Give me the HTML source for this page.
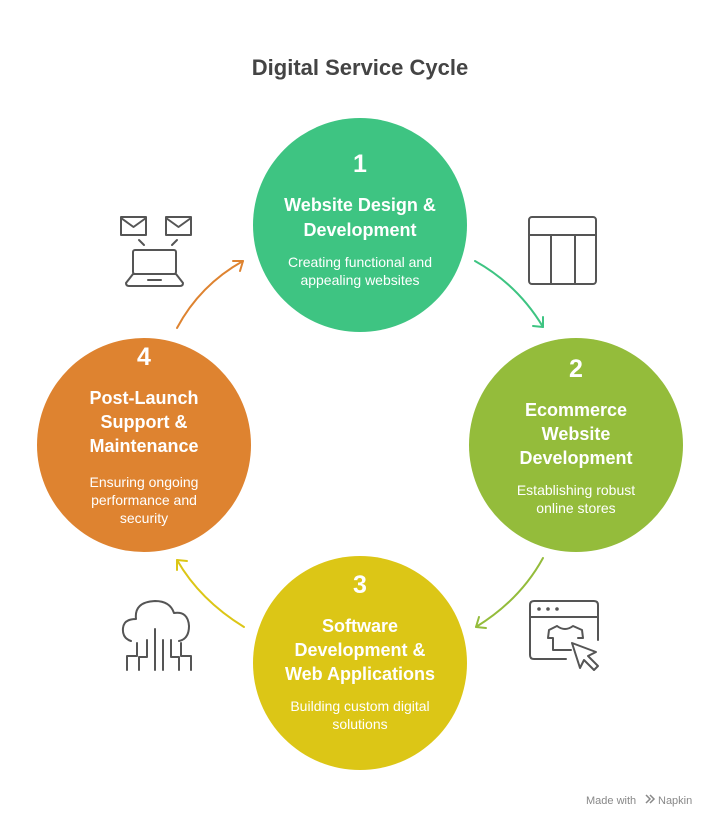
<!DOCTYPE html>
<html><head><meta charset="utf-8"><style>
html,body{margin:0;padding:0;background:#fff;}
svg{display:block;font-family:"Liberation Sans",Arial,sans-serif;}
.t{font-weight:bold;font-size:18px;fill:#fff;text-anchor:middle;}
.n{font-weight:bold;font-size:25px;fill:#fff;text-anchor:middle;}
.d{font-size:14px;fill:#fff;text-anchor:middle;}
.ic{fill:none;stroke:#555;stroke-width:2;stroke-linecap:round;stroke-linejoin:round;}
</style></head><body>
<svg width="720" height="828" viewBox="0 0 720 828">
<text x="360" y="75" text-anchor="middle" font-size="22" font-weight="bold" fill="#444">Digital Service Cycle</text>

<circle cx="360" cy="225" r="107" fill="#3ec482"/>
<circle cx="576" cy="445" r="107" fill="#94bc3b"/>
<circle cx="360" cy="663" r="107" fill="#dcc616"/>
<circle cx="144" cy="445" r="107" fill="#de8330"/>

<text class="n" x="360" y="172">1</text>
<text class="t" x="360" y="211">Website Design &amp;</text>
<text class="t" x="360" y="236">Development</text>
<text class="d" x="360" y="267">Creating functional and</text>
<text class="d" x="360" y="285">appealing websites</text>

<text class="n" x="576" y="377">2</text>
<text class="t" x="576" y="416">Ecommerce</text>
<text class="t" x="576" y="440">Website</text>
<text class="t" x="576" y="464">Development</text>
<text class="d" x="576" y="495">Establishing robust</text>
<text class="d" x="576" y="513">online stores</text>

<text class="n" x="360" y="593">3</text>
<text class="t" x="360" y="632">Software</text>
<text class="t" x="360" y="656">Development &amp;</text>
<text class="t" x="360" y="680">Web Applications</text>
<text class="d" x="360" y="711">Building custom digital</text>
<text class="d" x="360" y="729">solutions</text>

<text class="n" x="144" y="365">4</text>
<text class="t" x="144" y="404">Post-Launch</text>
<text class="t" x="144" y="428">Support &amp;</text>
<text class="t" x="144" y="452">Maintenance</text>
<text class="d" x="144" y="487">Ensuring ongoing</text>
<text class="d" x="144" y="505">performance and</text>
<text class="d" x="144" y="523">security</text>

<!-- arrows -->
<g fill="none" stroke-width="2" stroke-linecap="round" stroke-linejoin="round">
<path d="M177 328 Q200 285 243 261" stroke="#de8330"/>
<path d="M233 261 L243 261 L240 271" stroke="#de8330"/>
<path d="M475 261 Q518 285 543 327" stroke="#3ec482"/>
<path d="M543 317 L543 327 L533 326" stroke="#3ec482"/>
<path d="M543 558 Q520 600 476 627" stroke="#94bc3b"/>
<path d="M486 628 L476 627 L479 617" stroke="#94bc3b"/>
<path d="M244 627 Q200 600 177 560" stroke="#dcc616"/>
<path d="M177 570 L177 560 L187 561" stroke="#dcc616"/>
</g>

<!-- laptop icon -->
<g class="ic">
<rect x="121" y="217" width="25" height="18"/>
<path d="M121 218 L133.5 227 L146 218"/>
<rect x="166" y="217" width="25" height="18"/>
<path d="M166 218 L178.5 227 L191 218"/>
<path d="M139 240 L144 245 M177 240 L172 245"/>
<rect x="133" y="250" width="43" height="24" rx="2"/>
<path d="M133 274 L126 283 Q126 286 129 286 L180 286 Q183 286 183 283 L176 274 Z"/>
<path d="M148 280 L161 280"/>
</g>
<!-- table icon -->
<g class="ic">
<rect x="529" y="217" width="67" height="67" rx="3"/>
<path d="M529 235 L596 235 M551 235 L551 284 M575 235 L575 284"/>
</g>
<!-- cloud icon -->
<g class="ic">
<path d="M131 641 Q122 638 123 628 Q124 619 136 619 Q134 602 155 601 Q170 601 174 613 Q188 611 189 626 Q189 639 179 641"/>
<path d="M155 629 L155 670 M163 640 L163 670"/>
<path d="M147 640 L147 657 L139 657 L139 670"/>
<path d="M137 643 L137 656 L127 656 L127 670"/>
<path d="M171 640 L171 657 L179 657 L179 670"/>
<path d="M181 643 L181 656 L191 656 L191 670"/>
</g>
<!-- browser icon -->
<g class="ic">
<path d="M566 659 L534 659 Q530 659 530 655 L530 605 Q530 601 534 601 L594 601 Q598 601 598 605 L598 640"/>
<path d="M530 617 L598 617"/>
<circle cx="539" cy="609" r="0.8" fill="#555"/>
<circle cx="548" cy="609" r="0.8" fill="#555"/>
<circle cx="557" cy="609" r="0.8" fill="#555"/>
<path d="M557 626 L549 630 L548 638 L553 638 L553 650 L571 650 M557 626 Q565 632 573 626 L582 630 L583 638 L578 638"/>
<path d="M572 643 L580 668 L584 660 L594 670 L598 666 L588 656 L596 652 Z"/>
</g>

<text x="586" y="804" font-size="11" fill="#888">Made with</text>
<path d="M646 795 l4 4 l-4 4 m4 -8 l4 4 l-4 4" stroke="#888" stroke-width="1.5" fill="none"/>
<text x="658" y="804" font-size="11" fill="#888">Napkin</text>
</svg>
</body></html>
